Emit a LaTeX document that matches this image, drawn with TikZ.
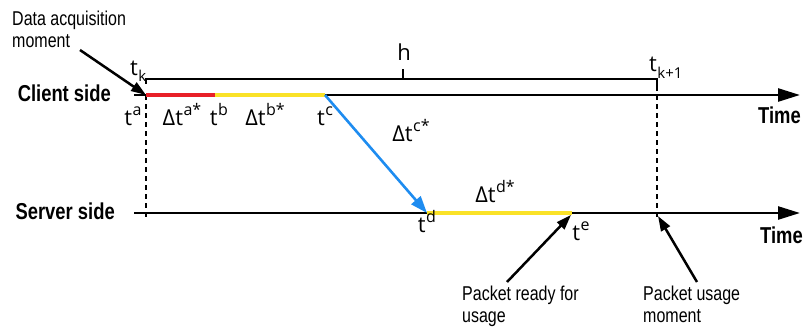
\documentclass[tikz,border=0pt]{standalone}
\usepackage{fontspec}
\setmainfont{Liberation Sans}
\newfontfamily\condf[FakeStretch=0.8]{Liberation Sans}
\newfontfamily\labf{Open Sans}
\usetikzlibrary{arrows.meta}
\definecolor{cred}{RGB}{232,32,40}
\definecolor{cyel}{RGB}{250,226,40}
\definecolor{cblue}{RGB}{30,140,240}
\newcommand\sps[1]{\hspace{0.5pt}\raisebox{0.45em}{\fontsize{16}{16}\selectfont #1}}
\newcommand\sbs[1]{\hspace{0.5pt}\raisebox{-0.3em}{\fontsize{15}{15}\selectfont #1}}
\tikzset{
  cond/.style={font=\condf\fontsize{20}{22.5}\selectfont, inner sep=0pt, align=left},
  side/.style={font=\condf\bfseries\fontsize{23}{26}\selectfont, inner sep=0pt},
  lab/.style={font=\labf\fontsize{22}{24}\selectfont, inner sep=0pt},
  axis/.style={line width=2.5pt, -{Triangle[length=22pt,width=13pt]}},
  pointer/.style={line width=2.5pt, -{Triangle[length=15pt,width=10pt]}},
  guide/.style={line width=2.6pt, dash pattern=on 5pt off 4pt},
  bracket/.style={line width=2pt},
  seg/.style={line width=3.2pt},
}
\begin{document}
\begin{tikzpicture}[x=1pt,y=-1pt]
\useasboundingbox (0,0) rectangle (806,329);
% coordinates
\coordinate (cl0) at (134,95);
\coordinate (cl1) at (800,95);
\coordinate (sv0) at (134,213);
\coordinate (sv1) at (800,213);
\coordinate (ta) at (146,95);
\coordinate (tb) at (215,95);
\coordinate (tc) at (325,95);
\coordinate (td) at (427,213);
\coordinate (te) at (572,213);
\coordinate (tkb) at (146,84);
\coordinate (tkt) at (146,79);
\coordinate (tk1t) at (657,79);
\coordinate (tk1b) at (657,86);
\coordinate (hb) at (403,79);
\coordinate (ht) at (403,69);
\coordinate (gA) at (146,218);
\coordinate (gB0) at (657,86);
\coordinate (gB) at (657,218);
\coordinate (use) at (658,216);
\coordinate (ready) at (571,215);
\coordinate (damS) at (80,50);
\coordinate (prS) at (507,282);
\coordinate (puS) at (697,282);

% guides
\draw[guide] (ta) -- (gA);
\draw[guide] (gB0) -- (gB);
% axes
\draw[axis] (cl0) -- (cl1);
\draw[axis] (sv0) -- (sv1);
% segments
\draw[seg, cred] (ta) -- (tb);
\draw[seg, cyel] (tb) -- (tc);
\draw[seg, cyel] (td) -- (te);
\draw[line width=2.6pt, cblue, -{Triangle[length=17pt,width=12pt]}] (tc) -- (td);
% bracket
\draw[bracket] (tkb) -- (tkt) -- (tk1t) -- (tk1b);
\draw[bracket] (hb) -- (ht);

% texts
\node[cond, anchor=north west] (dam) at (12,10.5) {Data acquisition\\moment};
\node[cond, anchor=north west] (pr) at (462,285.5) {Packet ready for\\usage};
\node[cond, anchor=north west] (pu) at (643,285.5) {Packet usage\\moment};
\node[side, anchor=east] (client) at (111,93) {Client side};
\node[side, anchor=east] (server) at (115,211) {Server side};
\node[side, anchor=east] (time1) at (801,115) {Time};
\node[side, anchor=east] (time2) at (803,235) {Time};

\node[lab, anchor=base west] (lk) at (130,75) {t\sbs{k}};
\node[lab, anchor=base west] (lk1) at (649,72) {t\sbs{k+1}};
\node[lab, anchor=base] (lh) at (404,60) {h};
\node[lab, anchor=base] (la) at (133,125) {t\sps{a}};
\node[lab, anchor=base] (lda) at (182,125) {Δt\sps{a*}};
\node[lab, anchor=base] (lb) at (219,125) {t\sps{b}};
\node[lab, anchor=base] (ldb) at (265,125) {Δt\sps{b*}};
\node[lab, anchor=base] (lc) at (325,125) {t\sps{c}};
\node[lab, anchor=base] (ldc) at (411,141) {Δt\sps{c*}};
\node[lab, anchor=base] (ldd) at (495,202) {Δt\sps{d*}};
\node[lab, anchor=base] (ld) at (427,232) {t\sps{d}};
\node[lab, anchor=base] (le) at (581,240) {t\sps{e}};

% pointers
\draw[pointer] (damS) -- (ta);
\draw[pointer] (prS) -- (ready);
\draw[pointer] (puS) -- (use);
\end{tikzpicture}
\end{document}
